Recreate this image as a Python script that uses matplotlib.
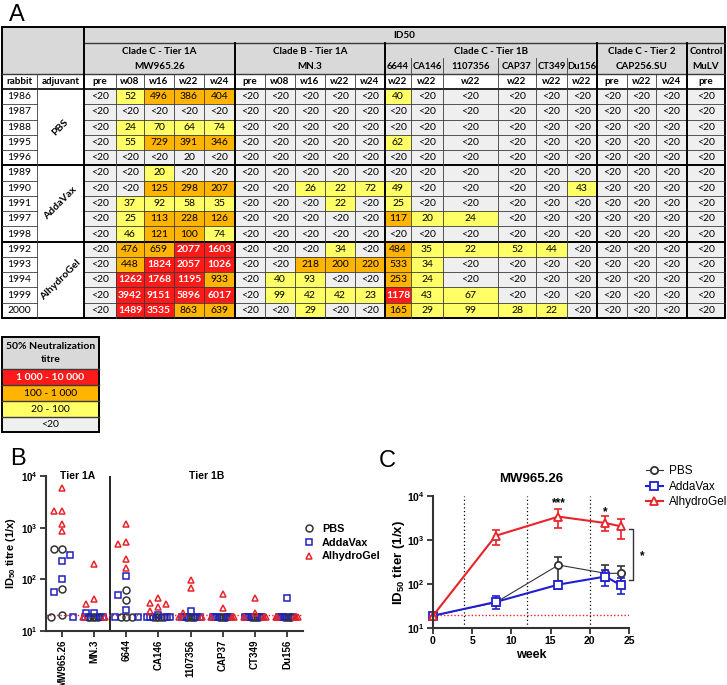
import numpy as np
import matplotlib
matplotlib.use('Agg')
import matplotlib.pyplot as plt
from matplotlib.patches import Rectangle
from matplotlib.ticker import FixedLocator, FuncFormatter, NullLocator

plt.rcParams['font.family'] = ['Liberation Sans', 'DejaVu Sans']
plt.rcParams['mathtext.fontset'] = 'custom'
plt.rcParams['mathtext.rm'] = 'Liberation Sans'
plt.rcParams['mathtext.bf'] = 'Liberation Sans:bold'
plt.rcParams['mathtext.it'] = 'Liberation Sans:italic'

L = None  # "<20", below the detection limit

# ---- panel A data (ID50 per rabbit) ----
rabbits = [1986, 1987, 1988, 1995, 1996, 1989, 1990, 1991, 1997, 1998, 1992, 1993, 1994, 1999, 2000]
adjuvants = ['PBS', 'AddaVax', 'AlhydroGel']

below = [L] * 15
mw965_w08 = [52, L, 24, 55, L, L, L, 37, 25, 46, 476, 448, 1262, 3942, 1489]
mw965_w16 = [496, L, 70, 729, L, 20, 125, 92, 113, 121, 659, 1824, 1768, 9151, 3535]
mw965_w22 = [386, L, 64, 391, 20, L, 298, 58, 228, 100, 2077, 2057, 1195, 5896, 863]
mw965_w24 = [404, L, 74, 346, L, L, 207, 35, 126, 74, 1603, 1026, 933, 6017, 639]
mn3_w08 = [L, L, L, L, L, L, L, L, L, L, L, L, 40, 99, L]
mn3_w16 = [L, L, L, L, L, L, 26, L, L, L, L, 218, 93, 42, 29]
mn3_w22 = [L, L, L, L, L, L, 22, 22, L, L, 34, 200, L, 42, L]
mn3_w24 = [L, L, L, L, L, L, 72, L, L, L, L, 220, L, 23, L]
v6644_w22 = [40, L, L, 62, L, L, 49, 25, 117, L, 484, 533, 253, 1178, 165]
ca146_w22 = [L, L, L, L, L, L, L, L, 20, L, 35, 34, 24, 43, 29]
v1107356_w22 = [L, L, L, L, L, L, L, L, 24, L, 22, L, L, 67, 99]
cap37_w22 = [L, L, L, L, L, L, L, L, L, L, 52, L, L, L, 28]
ct349_w22 = [L, L, L, L, L, L, L, L, L, L, 44, L, L, L, 22]
du156_w22 = [L, L, L, L, L, L, 43, L, L, L, L, L, L, L, L]

col_heads = ['pre', 'w08', 'w16', 'w22', 'w24', 'pre', 'w08', 'w16', 'w22', 'w24',
             'w22', 'w22', 'w22', 'w22', 'w22', 'w22', 'pre', 'w22', 'w24', 'pre']
col_vals = [below, mw965_w08, mw965_w16, mw965_w22, mw965_w24,
            below, mn3_w08, mn3_w16, mn3_w22, mn3_w24,
            v6644_w22, ca146_w22, v1107356_w22, cap37_w22, ct349_w22, du156_w22,
            below, below, below, below]
grey_cells = [(4, 3)]  # 1996 w22 "20" is left uncoloured in the original

legend_bins = ['1 000 - 10 000', '100 - 1 000', '20 - 100', '<20']

# ---- panel B data ----
b_viruses = ['MW965.26', 'MN.3', '6644', 'CA146', '1107356', 'CAP37', 'CT349', 'Du156']
b_values = [mw965_w22, mn3_w22, v6644_w22, ca146_w22, v1107356_w22, cap37_w22, ct349_w22, du156_w22]

# ---- panel C data (MW965.26 group means) ----
weeks = [0, 8, 16, 22, 24]
pbs_mean = [19, 38, 270, 175, 175]
pbs_lo = [19, 32, 105, 115, 115]
pbs_hi = [19, 45, 410, 265, 262]
adda_mean = [19, 39, 97, 148, 93]
adda_lo = [19, 27, 78, 88, 60]
adda_hi = [19, 52, 118, 205, 137]
alhy_mean = [19, 1250, 3400, 2430, 2040]
alhy_lo = [19, 780, 1870, 1570, 1070]
alhy_hi = [19, 1720, 5070, 3450, 3050]
boost_weeks = [4, 12, 20]

RED = '#ff1a1a'
ORANGE = '#ffb400'
YELLOW = '#ffff66'
GREY = '#efefef'
HEAD = '#d9d9d9'


def titre_colour(v):
    if v is None:
        return GREY
    if v < 100:
        return YELLOW
    if v < 1000:
        return ORANGE
    return RED


fig = plt.figure(figsize=(7.27, 6.85), dpi=100)

# full-figure axes in pixel units for the table
axt = fig.add_axes([0, 0, 1, 1])
axt.set_xlim(0, 727)
axt.set_ylim(685, 0)
axt.axis('off')

tf = ['Lato', 'DejaVu Sans']
fs = 7.5
hs = 7.1
x_edges = [2, 37, 84, 116, 144, 174, 204, 235, 265, 295, 325, 355, 385, 411, 443,
           498, 536, 567, 597, 627, 656, 687, 725]
y_top, y_id, y_clade, y_head = 27, 43, 74, 89
row_h = (318 - y_head) / 15
y_bot = y_head + 15 * row_h


def box(x0, x1, y0, y1, c):
    axt.add_patch(Rectangle((x0, y0), x1 - x0, y1 - y0, facecolor=c, edgecolor='none'))


def txt(x, y, s, bold=False, color='black', size=fs, **kw):
    axt.text(x, y, s, ha='center', va='center', fontsize=size, color=color,
             fontweight='bold' if bold else 'normal', family=tf, **kw)


box(x_edges[0], x_edges[-1], y_top, y_clade, HEAD)
txt((x_edges[2] + x_edges[-1]) / 2, (y_top + y_id) / 2, 'ID50', bold=True, size=hs)

mid1 = y_id + (y_clade - y_id) * 0.27
mid2 = y_id + (y_clade - y_id) * 0.75
clades = [(2, 7, 'Clade C - Tier 1A', 'MW965.26'), (7, 12, 'Clade B - Tier 1A', 'MN.3'),
          (18, 21, 'Clade C - Tier 2', 'CAP256.SU'), (21, 22, 'Control', 'MuLV')]
for a, b, t1, t2 in clades:
    xc = (x_edges[a] + x_edges[b]) / 2
    txt(xc, mid1, t1, bold=True, size=hs)
    txt(xc, mid2, t2, bold=True, size=hs)
txt((x_edges[12] + x_edges[18]) / 2, mid1, 'Clade C - Tier 1B', bold=True, size=hs)
for k, name in enumerate(['6644', 'CA146', '1107356', 'CAP37', 'CT349', 'Du156']):
    txt((x_edges[12 + k] + x_edges[13 + k]) / 2, mid2, name, bold=True, size=6.8)

# column header row
heads = ['rabbit', 'adjuvant'] + col_heads
for j, h in enumerate(heads):
    txt((x_edges[j] + x_edges[j + 1]) / 2, (y_clade + y_head) / 2, h, bold=True, size=hs)

# data rows
for i, r in enumerate(rabbits):
    y0 = y_head + i * row_h
    yc = y0 + row_h / 2
    txt((x_edges[0] + x_edges[1]) / 2, yc, str(r))
    for j, vals in enumerate(col_vals):
        v = vals[i]
        c = GREY if (i, j) in grey_cells else titre_colour(v)
        x0, x1 = x_edges[j + 2], x_edges[j + 3]
        box(x0, x1, y0, y0 + row_h, c)
        s = '<20' if v is None else str(v)
        if c == RED:
            txt((x0 + x1) / 2, yc, s, bold=True, color='white')
        else:
            txt((x0 + x1) / 2, yc, s)

for g, name in enumerate(adjuvants):
    yc = y_head + (g * 5 + 2.5) * row_h
    txt((x_edges[1] + x_edges[2]) / 2, yc, name, bold=True, rotation=45)

# grid lines
lc = '#3a3a3a'
thin, thick = 0.6, 1.4
for i in range(1, 15):
    y = y_head + i * row_h
    if i % 5 == 0:
        axt.plot([x_edges[0], x_edges[-1]], [y, y], color='black', lw=thick)
    else:
        axt.plot([x_edges[0], x_edges[1]], [y, y], color=lc, lw=thin)
        axt.plot([x_edges[2], x_edges[-1]], [y, y], color=lc, lw=thin)
axt.plot([x_edges[2], x_edges[-1]], [y_id, y_id], color=lc, lw=1.0)
axt.plot([x_edges[0], x_edges[-1]], [y_clade, y_clade], color=lc, lw=1.0)
axt.plot([x_edges[0], x_edges[-1]], [y_head, y_head], color='black', lw=1.2)
for j in [1, 3, 4, 5, 6, 8, 9, 10, 11, 19, 20]:
    axt.plot([x_edges[j]] * 2, [y_clade, y_bot], color=lc, lw=thin)
for j in [13, 14, 15, 16, 17]:
    axt.plot([x_edges[j]] * 2, [y_id + (y_clade - y_id) * 0.47, y_bot], color=lc, lw=thin)
for j in [7, 12, 18, 21]:
    axt.plot([x_edges[j]] * 2, [y_id, y_bot], color='black', lw=thick)
axt.plot([x_edges[2]] * 2, [y_top, y_bot], color='black', lw=thick)
axt.add_patch(Rectangle((x_edges[0], y_top), x_edges[-1] - x_edges[0], y_bot - y_top,
                        facecolor='none', edgecolor='black', lw=thick))

# colour key
kx0, kx1 = 2, 99
ky = [337, 369, 385, 401, 417, 432]
box(kx0, kx1, ky[0], ky[1], HEAD)
txt((kx0 + kx1) / 2, (ky[0] + ky[1]) / 2, '50% Neutralization\ntitre', bold=True, linespacing=1.6)
for k, (lab, c) in enumerate(zip(legend_bins, [RED, ORANGE, YELLOW, GREY])):
    box(kx0, kx1, ky[k + 1], ky[k + 2], c)
    if c == RED:
        txt((kx0 + kx1) / 2, (ky[k + 1] + ky[k + 2]) / 2, lab, bold=True, color='white')
    else:
        txt((kx0 + kx1) / 2, (ky[k + 1] + ky[k + 2]) / 2, lab)
    axt.plot([kx0, kx1], [ky[k + 1]] * 2, color=lc, lw=1.0)
axt.add_patch(Rectangle((kx0, ky[0]), kx1 - kx0, ky[-1] - ky[0],
                        facecolor='none', edgecolor='black', lw=thick))

# panel letters
for s, x, y in [('A', 9, 4), ('B', 10, 448), ('C', 379, 450)]:
    axt.text(x, y, s, fontsize=17, ha='left', va='top')


def log_ticks(ax, size):
    ax.set_yscale('log')
    ax.set_ylim(10, 1e4)
    ax.yaxis.set_major_locator(FixedLocator([10, 100, 1000, 10000]))
    ax.yaxis.set_minor_locator(NullLocator())
    ax.yaxis.set_major_formatter(FuncFormatter(lambda v, p: r'$\mathbf{10^{%d}}$' % round(np.log10(v))))
    for sp in ['top', 'right']:
        ax.spines[sp].set_visible(False)
    for sp in ['left', 'bottom']:
        ax.spines[sp].set_linewidth(1.5)
        ax.spines[sp].set_color('#333333')
    ax.tick_params(width=1.3, length=4, color='#333333', labelsize=size, pad=2)
    ax.set_facecolor('none')


# ---- panel B ----
axb = fig.add_axes([46 / 727, 1 - 631 / 685, 257 / 727, 155 / 685])
log_ticks(axb, 7)
axb.set_xlim(-0.5, len(b_viruses) - 0.5)
axb.set_xticks(range(len(b_viruses)))
axb.set_xticklabels(b_viruses, rotation=90, fontweight='bold', fontsize=7)
axb.axvline(1.5, color='black', lw=1.2)
axb.axhline(20, color='#e8232a', lw=1.0, ls=(0, (1, 1.5)))
axb.text(0.5, 1e4, 'Tier 1A', ha='center', va='center', fontsize=7.5, fontweight='bold')
axb.text(4.5, 1e4, 'Tier 1B', ha='center', va='center', fontsize=7.5, fontweight='bold')
axb.set_ylabel('ID$_{\\mathbf{50}}$ titre (1/x)', fontsize=8, fontweight='bold', labelpad=2)

styles = [('o', '#333333', 'PBS'), ('s', '#2020c0', 'AddaVax'), ('^', '#e8232a', 'AlhydroGel')]
floor = 18.5
d = 0.25
pts_x = [[], [], []]
pts_y = [[], [], []]
for k, vals in enumerate(b_values):
    grp = [i // 5 for i in range(15)]
    hits = sorted([(v, grp[i]) for i, v in enumerate(vals) if v is not None], reverse=True)
    placed = []
    for v, g in hits:
        lv = np.log10(v)
        taken = [o for (pl, o) in placed if abs(pl - lv) < 0.13]
        for o in [0, -d, d, -2 * d, 2 * d]:
            if o not in taken:
                break
        placed.append((lv, o))
        pts_x[g].append(k + o)
        pts_y[g].append(v)
    lows = [grp[i] for i, v in enumerate(vals) if v is None]
    n = len(lows)
    if n == 1:
        taken = [o for (pl, o) in placed if abs(pl - np.log10(floor)) < 0.13]
        offs = [[o for o in [0, -d, d] if o not in taken][0]]
    else:
        offs = np.linspace(-0.35, 0.35, n)
        offs = sorted(offs, key=lambda o: abs(o))
    for g, o in zip(lows, offs):
        pts_x[g].append(k + o)
        pts_y[g].append(floor)

for g, (m, c, lab) in enumerate(styles):
    axb.plot(pts_x[g], pts_y[g], ls='none', marker=m, ms=5 if m != 's' else 4.6,
             mfc='none', mec=c, mew=1.1, label=lab, clip_on=False)
leg = axb.legend(loc='center left', bbox_to_anchor=(0.96, 0.57), frameon=False,
                 prop={'weight': 'bold', 'size': 7.8}, handlelength=1.2,
                 handletextpad=0.6, labelspacing=0.35)

# ---- panel C ----
axc = fig.add_axes([433 / 727, 1 - 628 / 685, 196 / 727, 132 / 685])
log_ticks(axc, 7.5)
axc.set_xlim(0, 25)
axc.set_xticks([0, 5, 10, 15, 20, 25])
for t in axc.get_xticklabels():
    t.set_fontweight('bold')
for x in boost_weeks:
    axc.axvline(x, color='black', lw=0.9, ls=(0, (1, 2)))
axc.axhline(20, color='#e8232a', lw=1.0, ls=(0, (1, 1.5)))
axc.set_title('MW965.26', fontsize=9.5, fontweight='bold', pad=10)
axc.set_xlabel('week', fontsize=9, fontweight='bold', labelpad=2)
axc.set_ylabel('ID$_{\\mathbf{50}}$ titer (1/x)', fontsize=9.5, fontweight='bold', labelpad=0)

series = [(pbs_mean, pbs_lo, pbs_hi, 'o', '#333333', 0.8, 5.2, 'PBS'),
          (adda_mean, adda_lo, adda_hi, 's', '#2020d0', 1.5, 6.2, 'AddaVax'),
          (alhy_mean, alhy_lo, alhy_hi, '^', '#e8232a', 1.5, 6.2, 'AlhydroGel')]
handles = []
for mean, lo, hi, m, c, lw, ms, lab in series:
    mean = np.array(mean, float)
    err = [mean - np.array(lo), np.array(hi) - mean]
    axc.errorbar(weeks, mean, yerr=err, fmt='none', ecolor=c, elinewidth=1.2, capsize=3,
                 capthick=1.2, clip_on=False)
    h, = axc.plot(weeks, mean, color=c, lw=lw, marker=m, ms=ms, mfc='white', mec=c, mew=1.3,
                  label=lab, clip_on=False)
    handles.append(h)
axc.legend(handles=handles, loc='center left', bbox_to_anchor=(1.03, 1.07), frameon=False,
           fontsize=8.5, handlelength=1.5, handletextpad=0.5, labelspacing=0.3)

axc.text(16, 7000, '***', ha='center', va='center', fontsize=8.5, fontweight='bold')
axc.text(22, 4300, '*', ha='center', va='center', fontsize=8.5, fontweight='bold')
# bracket between AlhydroGel and the other groups at week 24
axc.plot([25.0, 25.5, 25.5, 25.0], [1780, 1780, 123, 123], color='#333333', lw=1.0, clip_on=False)
axc.text(26.7, 430, '*', ha='center', va='center', fontsize=8.5, fontweight='bold')

fig.savefig('out.png', dpi=100)
